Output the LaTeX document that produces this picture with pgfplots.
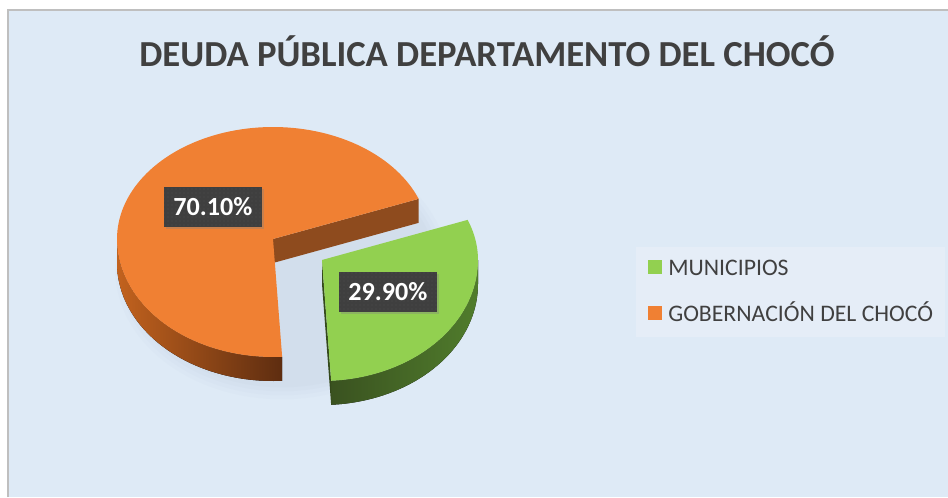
\documentclass[border=0pt]{standalone}
\usepackage{fontspec}
\setmainfont{Carlito}
\usepackage{pgfplots}
\pgfplotsset{compat=1.18}
\usepgfplotslibrary{fillbetween}
\usetikzlibrary{shadows,patterns}
\definecolor{bgc}{HTML}{DEEAF6}
\definecolor{legbg}{HTML}{E5EDF7}
\definecolor{bordc}{HTML}{BFBFBF}
\definecolor{txtc}{HTML}{404040}
\definecolor{ortop}{HTML}{F08033}
\definecolor{orsideL}{HTML}{C2621E}
\definecolor{orsideR}{HTML}{5E2D10}
\definecolor{orcut}{HTML}{8E4B1E}
\definecolor{grtop}{HTML}{92D050}
\definecolor{grsideL}{HTML}{3A5220}
\definecolor{grsideR}{HTML}{507C2C}
\definecolor{grcut}{HTML}{34491C}
\definecolor{labbg}{HTML}{3F3F3F}
\definecolor{shad}{HTML}{8FA3B8}
\pgfplotsset{sqleg/.style={legend image code/.code={\fill[##1] (0pt,0.75pt) rectangle (10.5pt,11.25pt);}}}
% data (percent)
\def\valMun{29.9}
\def\valGob{70.1}
% geometry (pixel units)
\def\ox{273}\def\oy{239}
\def\gx{322}\def\gy{260}
\def\rx{156}\def\ryt{112}\def\ryb{118}\def\rybg{121}
\def\dep{24}
\pgfmathsetmacro\aS{21}
\pgfmathsetmacro\aM{\aS-3.6*\valMun}
\pgfmathsetmacro\aE{\aS+3.6*\valGob}
\begin{document}
\begin{tikzpicture}
\begin{axis}[scale only axis, width=711pt, height=372.75pt,
  xmin=0, xmax=948, ymin=0, ymax=497, y dir=reverse,
  axis lines=none, clip=false, set layers,
  legend style={at={(0.6709,0.5030)}, anchor=north west, draw=none, fill=legbg,
    inner xsep=9pt, inner ysep=9pt, font=\fontsize{17.8pt}{20pt}\selectfont,
    text=txtc, row sep=19.5pt, column sep=4.5pt,
    nodes={inner sep=0pt, text height=12pt, text depth=3pt},
    cells={anchor=base west}},
]
% background
\begin{pgfonlayer}{axis background}
\fill[white] (axis cs:0,0) rectangle (axis cs:948,497);
\fill[bgc] (axis cs:8,10) rectangle (axis cs:948,497);
\draw[bordc, line width=1.2pt] (axis cs:8,497) -- (axis cs:8,10) -- (axis cs:948,10);
% soft shadow under the pie
\fill[shad, opacity=0.03] (axis cs:282,270) ellipse [x radius=125pt, y radius=97pt];
\fill[shad, opacity=0.03] (axis cs:282,270) ellipse [x radius=122pt, y radius=94pt];
\fill[shad, opacity=0.035] (axis cs:282,270) ellipse [x radius=119pt, y radius=91pt];
\fill[shad, opacity=0.04] (axis cs:282,270) ellipse [x radius=116pt, y radius=88pt];
\end{pgfonlayer}
\addlegendimage{sqleg, fill=grtop, draw=none}
\addlegendentry{MUNICIPIOS}
\addlegendimage{sqleg, fill=ortop, draw=none}
\addlegendentry{GOBERNACIÓN DEL CHOCÓ}
% ---------- orange slice (GOBERNACION) ----------
\addplot[draw=none, name path=oT, domain=180:\aE, samples=60, forget plot]
  ({\ox+\rx*cos(x)}, {\oy-sin(x)*\ryb});
\addplot[draw=none, name path=oB, domain=180:\aE, samples=60, forget plot]
  ({\ox+\rx*cos(x)}, {\oy-sin(x)*\ryb+\dep});
\addplot[left color=orsideL, right color=orsideR, draw=none, forget plot] fill between[of=oT and oB];
\pgfmathsetmacro\pax{\ox+\rx*cos(\aS)}
\pgfmathsetmacro\pay{\oy-\ryt*sin(\aS)}
\pgfmathsetmacro\payd{\pay+\dep}
\pgfmathsetmacro\oyd{\oy+\dep}
\addplot[fill=orcut, draw=none, forget plot] coordinates {(\ox,\oy) (\pax,\pay) (\pax,\payd) (\ox,\oyd)};
\addplot[fill=ortop, draw=none, domain=\aS:\aE, samples=120, forget plot]
  ({\ox+\rx*cos(x)}, {\oy-sin(x)*(sin(x)>0 ? \ryt : \ryb)}) -- (axis cs:\ox,\oy);
% ---------- green slice (MUNICIPIOS) ----------
\addplot[draw=none, name path=gT, domain=\aM:0, samples=40, forget plot]
  ({\gx+\rx*cos(x)}, {\gy-sin(x)*\rybg});
\addplot[draw=none, name path=gB, domain=\aM:0, samples=40, forget plot]
  ({\gx+\rx*cos(x)}, {\gy-sin(x)*\rybg+\dep});
\addplot[left color=grsideL, right color=grsideR, draw=none, forget plot] fill between[of=gT and gB];
\pgfmathsetmacro\pbx{\gx+\rx*cos(\aM)}
\pgfmathsetmacro\pby{\gy-\rybg*sin(\aM)}
\pgfmathsetmacro\pbyd{\pby+\dep}
\pgfmathsetmacro\gyd{\gy+\dep}
\addplot[fill=grcut, draw=none, forget plot] coordinates {(\gx,\gy) (\pbx,\pby) (\pbx,\pbyd) (\gx,\gyd)};
\addplot[fill=grtop, draw=none, domain=\aM:\aS, samples=60, forget plot]
  ({\gx+\rx*cos(x)}, {\gy-sin(x)*(sin(x)>0 ? \ryt : \rybg)}) -- (axis cs:\gx,\gy);
% ---------- data labels ----------
\node[fill=labbg, text=white, font=\fontsize{19.6pt}{22pt}\selectfont\bfseries,
  minimum width=73.5pt, minimum height=30pt, inner sep=0pt,
  drop shadow={opacity=0.35, shadow xshift=1.5pt, shadow yshift=-1.5pt},
  postaction={pattern=dots, pattern color=gray!60!black}]
  at (axis cs:213,207) {70.10\%};
\node[fill=labbg, text=white, font=\fontsize{19.6pt}{22pt}\selectfont\bfseries,
  minimum width=73.5pt, minimum height=30pt, inner sep=0pt,
  drop shadow={opacity=0.35, shadow xshift=1.5pt, shadow yshift=-1.5pt},
  postaction={pattern=dots, pattern color=gray!60!black}]
  at (axis cs:388,291.5) {29.90\%};
% ---------- title ----------
\node[font=\fontsize{27.5pt}{32pt}\selectfont\bfseries, text=txtc, anchor=base]
  at (axis cs:487,67) {DEUDA PÚBLICA DEPARTAMENTO DEL CHOCÓ};
\end{axis}
\pgfresetboundingbox
\useasboundingbox (current axis.south west) rectangle (current axis.north east);
\end{tikzpicture}
\end{document}
